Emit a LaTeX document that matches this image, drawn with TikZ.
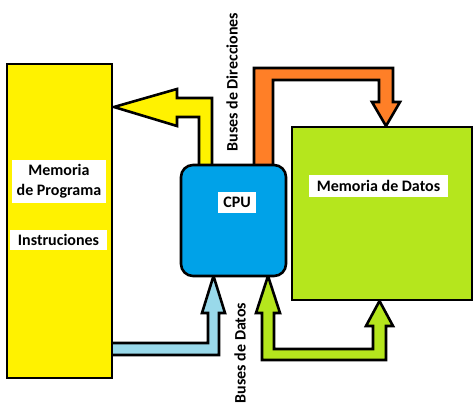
\documentclass[tikz,border=0pt]{standalone}
\usepackage{fontspec}
\setmainfont{Carlito}
\definecolor{pyellow}{HTML}{FFF200}
\definecolor{pblue}{HTML}{00A2E8}
\definecolor{porange}{HTML}{FF7F27}
\definecolor{pgreen}{HTML}{B5E61D}
\definecolor{plblue}{HTML}{99D9EA}
\begin{document}
\begin{tikzpicture}[x=1pt,y=-1pt,
  outl/.style={draw=black,line width=2.6pt,line join=miter},
  lbl/.style={fill=white,inner sep=0pt,font=\bfseries\fontsize{16}{20}\selectfont,align=center},
  buslbl/.style={inner sep=0pt,font=\bfseries\fontsize{16}{20}\selectfont,rotate=90}]
\useasboundingbox (0,0) rectangle (474,412);
% block arrows (drawn first, boxes cover their ends)
\draw[outl,fill=pyellow] (199,170) -- (199,117) -- (177,117) -- (177,126) -- (114,107)
  -- (177,89) -- (177,98) -- (212,98) -- (212,170) -- cycle;
\draw[outl,fill=porange] (254,170) -- (254,68) -- (393,68) -- (393,102) -- (400,102)
  -- (386,126) -- (372,102) -- (379,102) -- (379,80) -- (273,80) -- (273,170) -- cycle;
\draw[outl,fill=plblue] (100,343) -- (208,343) -- (208,313) -- (202,313) -- (213.5,276)
  -- (225,313) -- (219,313) -- (219,355) -- (100,355) -- cycle;
\draw[outl,fill=pgreen] (262,313) -- (256,313) -- (268,276) -- (280,313) -- (274,313)
  -- (274,349) -- (373,349) -- (373,326) -- (366,326) -- (379.5,301) -- (393,326)
  -- (386,326) -- (386,360) -- (262,360) -- cycle;
% boxes
\node[outl,fill=pyellow,minimum width=105pt,minimum height=314pt,inner sep=0pt] (prog) at (59.5,221) {};
\node[outl,fill=pblue,rounded corners=12pt,minimum width=105pt,minimum height=111pt,inner sep=0pt] (cpu) at (233.5,220.5) {};
\node[outl,fill=pgreen,minimum width=180pt,minimum height=173pt,inner sep=0pt] (datos) at (382,213.5) {};
% labels
\node[lbl,minimum width=94pt,minimum height=43pt] (tprog) at (59,181.5) {Memoria\\de Programa};
\node[lbl,minimum width=97pt,minimum height=20pt] (tinst) at (58.5,240) {Instruciones};
\node[lbl,minimum width=38pt,minimum height=21pt] (tcpu) at (237,202.5) {CPU};
\node[lbl,minimum width=139pt,minimum height=22pt] (tdatos) at (378.5,186) {Memoria de Datos};
\node[buslbl] (bdir) at (232,82) {Buses de Direcciones};
\node[buslbl] (bdat) at (240,353) {Buses de Datos};
\end{tikzpicture}
\end{document}
